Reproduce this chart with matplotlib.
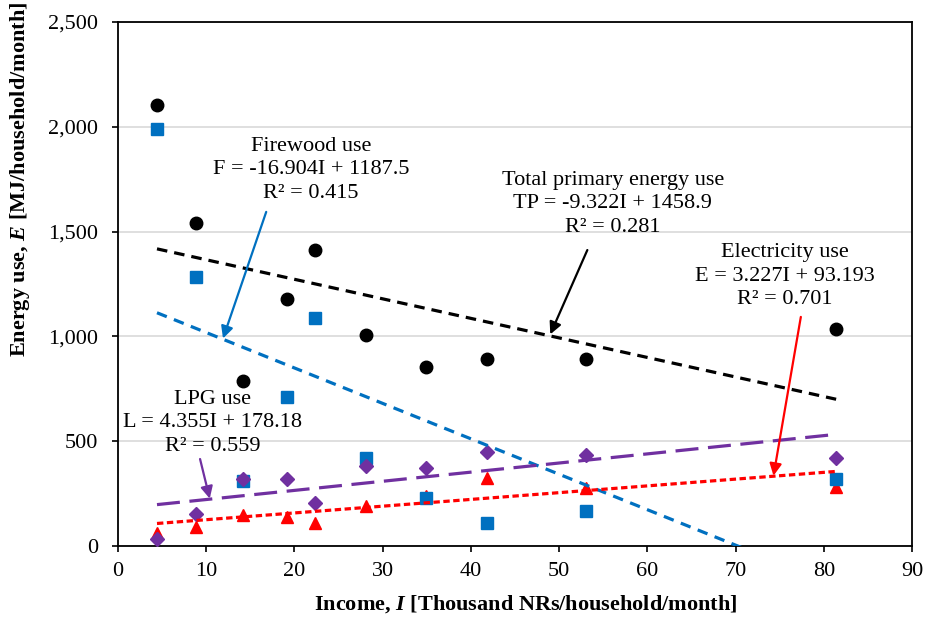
import matplotlib
matplotlib.use("Agg")
import matplotlib.pyplot as plt
from matplotlib.ticker import FuncFormatter
import numpy as np

plt.rcParams['font.family'] = ['Liberation Serif', 'DejaVu Serif']
plt.rcParams['mathtext.fontset'] = 'custom'
plt.rcParams['mathtext.rm'] = 'Liberation Serif'
plt.rcParams['mathtext.it'] = 'Liberation Serif:italic:bold'
plt.rcParams['mathtext.bf'] = 'Liberation Serif:bold'

# Monthly household income (thousand NRs)
income = [4.42, 8.84, 14.2, 19.2, 22.3, 28.1, 34.9, 41.8, 53.1, 81.4]

# Energy use per household per month (MJ)
total_use = [2104, 1541, 787, 1178, 1412, 1007, 854, 892, 892, 1036]
firewood_use = [1990, 1283, 310, 711, 1088, 420, 229, 110, 167, 320]
lpg_use = [33, 153, 320, 320, 205, 382, 372, 449, 434, 420]
electricity_use = [62, 91, 148, 138, 110, 191, 240, 324, 277, 282]

# Linear trend coefficients (slope, intercept) and R²
trend_total = (-9.322, 1458.9, 0.281)
trend_firewood = (-16.904, 1187.5, 0.415)
trend_lpg = (4.355, 178.18, 0.559)
trend_electricity = (3.227, 93.193, 0.701)

x_ticks = [0, 10, 20, 30, 40, 50, 60, 70, 80, 90]
y_ticks = [0, 500, 1000, 1500, 2000, 2500]

BLACK = "#000000"
BLUE = "#0070C0"
PURPLE = "#7030A0"
RED = "#FF0000"

fig = plt.figure(figsize=(9.25, 6.17), dpi=100)
ax = fig.add_axes([118 / 925, 1 - 546 / 617, (912 - 118) / 925, (546 - 22) / 617])

ax.set_xlim(0, 90)
ax.set_ylim(0, 2500)
ax.set_xticks(x_ticks)
ax.set_yticks(y_ticks)
ax.yaxis.set_major_formatter(FuncFormatter(lambda v, p: f"{int(v):,}"))
ax.grid(axis='y', color='#D9D9D9', lw=1.2, zorder=0)
ax.set_axisbelow(True)
for s in ax.spines.values():
    s.set_linewidth(1.3)
    s.set_color('black')
ax.tick_params(axis='both', direction='out', length=4.5, width=1.2, labelsize=16)
ax.tick_params(axis='x', pad=7)
ax.tick_params(axis='y', pad=10)

# Scatter points
ms = 9
ax.plot(income, total_use, 'o', color=BLACK, ms=ms, zorder=4, clip_on=False)
ax.plot(income, electricity_use, '^', color=RED, ms=ms, zorder=4, clip_on=False)
ax.plot(income, firewood_use, 's', color=BLUE, ms=ms - 0.5, zorder=4, clip_on=False)
ax.plot(income, lpg_use, 'D', color=PURPLE, ms=ms - 1.5, zorder=4, clip_on=False)

# Trend lines across the income range
xr = np.array([min(income), max(income)])
lw = 2.3

def trend(coef):
    return coef[0] * xr + coef[1]

ax.plot(xr, trend(trend_total), color=BLACK, lw=lw, dashes=(3.3, 2.2), zorder=5)
ax.plot(xr, trend(trend_firewood), color=BLUE, lw=lw, dashes=(3.3, 2.4), zorder=5)
ax.plot(xr, trend(trend_lpg), color=PURPLE, lw=lw, dashes=(7.2, 3.0), zorder=5)
ax.plot(xr, trend(trend_electricity), color=RED, lw=lw, dashes=(2.0, 1.1), zorder=5)

fs = 16


def label(x, y, name, sym, coef):
    slope, icpt, r2 = coef
    sign = '+' if icpt >= 0 else '-'
    txt = f"{name}\n{sym} = {slope:g}I {sign} {abs(icpt):g}\nR² = {r2:.3f}"
    ax.text(x, y, txt, ha='center', va='center', fontsize=fs, linespacing=1.35, zorder=6)


def arrow(tail, tip, color):
    ax.annotate('', xy=tip, xytext=tail,
                arrowprops=dict(arrowstyle='-|>', color=color, lw=1.6,
                                mutation_scale=18, shrinkA=0, shrinkB=0), zorder=6)


label(21.9, 1794, "Firewood use", "F", trend_firewood)
arrow((16.8, 1594), (11.9, 990), BLUE)

label(56.1, 1632, "Total primary energy use", "TP", trend_total)
arrow((53.2, 1412), (49.0, 1010), BLACK)

label(75.6, 1288, "Electricity use", "E", trend_electricity)
arrow((77.4, 1093), (74.3, 335), RED)

label(10.7, 587, "LPG use", "L", trend_lpg)
arrow((9.3, 415), (10.4, 226), PURPLE)

fig.text(0.568, 0.021, r"Income, $\mathit{I}$ [Thousand NRs/household/month]",
         ha='center', va='center', fontsize=16, fontweight='bold')
fig.text(0.0216, 0.71, r"Energy use, $\mathit{E}$ [MJ/household/month]",
         ha='center', va='center', rotation=90, fontsize=16, fontweight='bold')

fig.savefig("out.png", dpi=100)
